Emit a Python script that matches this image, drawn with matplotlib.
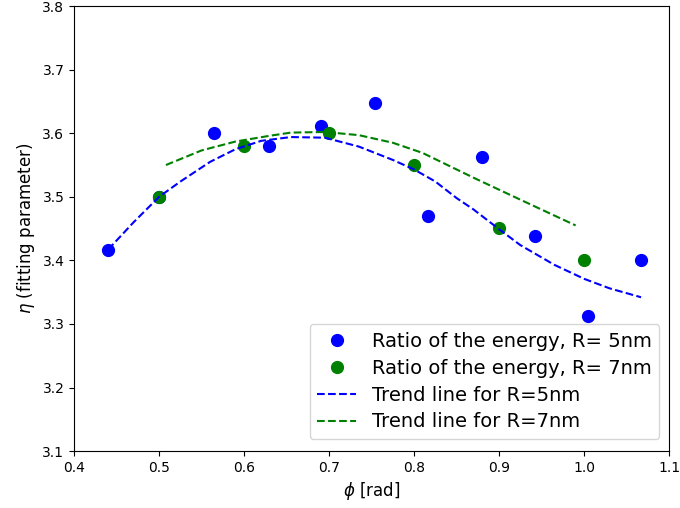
import numpy as np
import matplotlib
matplotlib.use("Agg")
import matplotlib.pyplot as plt

# Punti misurati (rapporto delle energie)
phi_5nm = [0.44, 0.50, 0.565, 0.629, 0.690, 0.754, 0.816, 0.880, 0.942, 1.005, 1.067]
eta_5nm = [3.417, 3.500, 3.600, 3.580, 3.612, 3.647, 3.470, 3.562, 3.438, 3.313, 3.400]

phi_7nm = [0.50, 0.60, 0.70, 0.80, 0.90, 1.00]
eta_7nm = [3.500, 3.580, 3.600, 3.550, 3.451, 3.400]

# Linee di tendenza
trend_phi_5nm = [0.44, 0.47, 0.50, 0.525, 0.56, 0.59, 0.62, 0.655, 0.695, 0.735, 0.775,
                 0.80, 0.825, 0.85, 0.87, 0.90, 0.925, 0.965, 1.00, 1.03, 1.067]
trend_eta_5nm = [3.417, 3.460, 3.500, 3.524, 3.555, 3.575, 3.588, 3.594, 3.593, 3.579, 3.558,
                 3.543, 3.524, 3.498, 3.480, 3.449, 3.424, 3.393, 3.371, 3.356, 3.342]

trend_phi_7nm = [0.508, 0.55, 0.59, 0.63, 0.655, 0.695, 0.735, 0.775, 0.81, 0.85, 0.87,
                 0.905, 0.945, 0.99]
trend_eta_7nm = [3.550, 3.573, 3.587, 3.596, 3.601, 3.602, 3.597, 3.585, 3.569, 3.543, 3.530,
                 3.508, 3.483, 3.455]

fig, ax = plt.subplots(figsize=(6.8, 5.08), dpi=100)
fig.subplots_adjust(left=0.109, right=0.984, top=0.988, bottom=0.112)

ax.plot(phi_5nm, eta_5nm, "o", color="blue", ms=8.5, label="Ratio of the energy, R= 5nm")
ax.plot(phi_7nm, eta_7nm, "o", color="green", ms=8.5, label="Ratio of the energy, R= 7nm")
ax.plot(trend_phi_5nm, trend_eta_5nm, "--", color="blue", lw=1.5, label="Trend line for R=5nm")
ax.plot(trend_phi_7nm, trend_eta_7nm, "--", color="green", lw=1.5, label="Trend line for R=7nm")

ax.set_xlim(0.4, 1.1)
ax.set_ylim(3.1, 3.8)
ax.set_xticks(np.arange(0.4, 1.11, 0.1))
ax.set_yticks(np.arange(3.1, 3.81, 0.1))
ax.set_xlabel(r"$\phi$ [rad]", fontsize=12)
ax.set_ylabel(r"$\eta$ (fitting parameter)", fontsize=12)
ax.legend(loc="lower right", fontsize=14, labelspacing=0.4,
          bbox_to_anchor=(1.0, 0.005))

plt.savefig("out.png")
